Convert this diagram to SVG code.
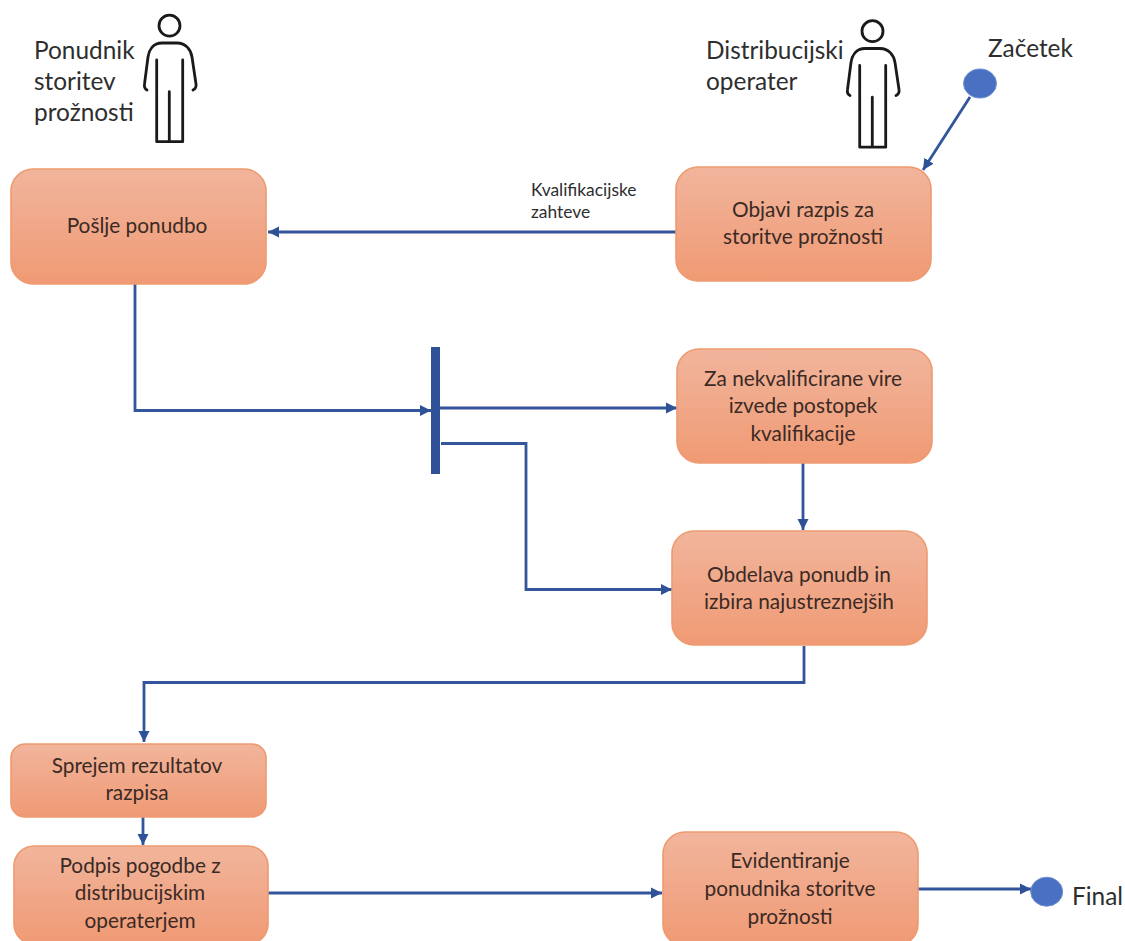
<svg xmlns="http://www.w3.org/2000/svg" width="1125" height="941" viewBox="0 0 1125 941">
<style>
.n{fill:url(#g);stroke:#ee9a70;stroke-width:1.6}
.t{font-family:Lato,"Open Sans","Liberation Sans",sans-serif;font-size:20.8px;fill:#3b2a25;text-anchor:middle}
.l{font-family:Lato,"Open Sans","Liberation Sans",sans-serif;font-size:24.4px;fill:#2e2e2e}
.s{font-family:Lato,"Open Sans","Liberation Sans",sans-serif;font-size:17.4px;fill:#2e2e2e}
.c{fill:none;stroke:#33559b;stroke-width:2.8}
.p{fill:none;stroke:#1a1a1a;stroke-width:2.8;stroke-linecap:round;stroke-linejoin:round}
.d{fill:#4a70c2;stroke:#6f8fd0;stroke-width:1}
</style>
<defs>
<linearGradient id="g" x1="0" y1="0" x2="0" y2="1"><stop offset="0" stop-color="#f1b59c"/><stop offset="1" stop-color="#f09a74"/></linearGradient>
<marker id="a" markerUnits="userSpaceOnUse" markerWidth="12" markerHeight="14" refX="11" refY="7" orient="auto"><path d="M0 1.500L11 7L0 12.500Z" fill="#2f5197"/></marker>
<g id="person"><circle cx="169.5" cy="25.7" r="10.5" class="p"/><path class="p" d="M147 90C145 89 144 87 144.500 84L148 57C149 50 153 43 162 43H177C186 43 191 50 192 57L196 84C196.500 87 195 89 193 90M156.700 60V141.700H182.700V60M169.300 91.700V141.700"/></g>
</defs>
<rect width="1125" height="941" fill="#fff"/>
<g id="connectors">
<path class="c" marker-end="url(#a)" d="M970 97L923 170"/>
<path class="c" marker-end="url(#a)" d="M676 232H268"/>
<path class="c" marker-end="url(#a)" d="M135 284V410.500H431"/>
<path class="c" marker-end="url(#a)" d="M440 408H677"/>
<path class="c" marker-end="url(#a)" d="M441 443.500H526V589.500H672"/>
<path class="c" marker-end="url(#a)" d="M803 463V530"/>
<path class="c" marker-end="url(#a)" d="M804 646V682.500H144V742"/>
<path class="c" marker-end="url(#a)" d="M143 817V845"/>
<path class="c" marker-end="url(#a)" d="M268 893H662"/>
<path class="c" marker-end="url(#a)" d="M918 889H1031"/>
<text class="s"><tspan x="531" y="196">Kvalifikacijske</tspan><tspan x="531" y="218">zahteve</tspan></text>
</g>
<g id="actor-ponudnik"><use href="#person"/><text class="l"><tspan x="34" y="59">Ponudnik</tspan><tspan x="34" y="90">storitev</tspan><tspan x="34" y="121">prožnosti</tspan></text></g>
<g id="actor-operater"><use href="#person" transform="translate(703 5.500)"/><text class="l"><tspan x="706" y="59">Distribucijski</tspan><tspan x="706" y="90">operater</tspan></text></g>
<g id="start"><ellipse class="d" cx="980" cy="83.500" rx="16.500" ry="14.500"/><text class="l" x="988" y="57">Začetek</text></g>
<g id="n1"><rect class="n" x="11" y="169" width="255" height="115" rx="22"/><text class="t" x="137" y="233">Pošlje ponudbo</text></g>
<g id="n2"><rect class="n" x="676" y="167" width="255" height="114" rx="22"/><text class="t"><tspan x="803" y="217">Objavi razpis za</tspan><tspan x="803" y="244">storitve prožnosti</tspan></text></g>
<g id="fork"><rect x="431" y="347" width="9" height="127" fill="#2f5197"/></g>
<g id="n3"><rect class="n" x="677" y="349" width="255" height="114" rx="22"/><text class="t"><tspan x="803" y="386">Za nekvalificirane vire</tspan><tspan x="803" y="413">izvede postopek</tspan><tspan x="803" y="441">kvalifikacije</tspan></text></g>
<g id="n4"><rect class="n" x="672" y="531" width="255" height="114" rx="22"/><text class="t"><tspan x="799" y="582">Obdelava ponudb in</tspan><tspan x="799" y="609">izbira najustreznejših</tspan></text></g>
<g id="n5"><rect class="n" x="11" y="744" width="255" height="73" rx="14"/><text class="t"><tspan x="137" y="773">Sprejem rezultatov</tspan><tspan x="137" y="800">razpisa</tspan></text></g>
<g id="n6"><rect class="n" x="14" y="846" width="254" height="98" rx="20"/><text class="t"><tspan x="140" y="873">Podpis pogodbe z</tspan><tspan x="140" y="900">distribucijskim</tspan><tspan x="140" y="928">operaterjem</tspan></text></g>
<g id="n7"><rect class="n" x="663" y="832" width="255" height="114" rx="22"/><text class="t"><tspan x="790" y="868">Evidentiranje</tspan><tspan x="790" y="896">ponudnika storitve</tspan><tspan x="790" y="924">prožnosti</tspan></text></g>
<g id="final"><ellipse class="d" cx="1046.700" cy="891.700" rx="16" ry="14.500"/><text class="l" x="1072" y="905">Final</text></g>
</svg>
